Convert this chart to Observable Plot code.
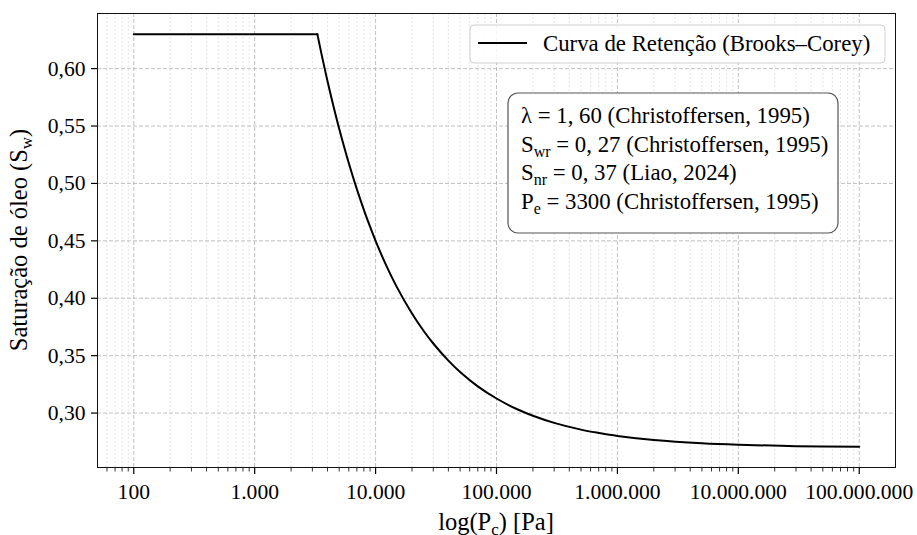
<!DOCTYPE html>
<html><head><meta charset="utf-8">
<script src="https://cdn.jsdelivr.net/npm/d3@7"></script>
<script src="https://cdn.jsdelivr.net/npm/@observablehq/plot@0.6"></script>
<style>
body{margin:0;background:#fff}
svg{display:block}
</style>
</head><body><div id="chart"></div>
<script>
// Capillary pressure (Pa) and oil saturation
const pressure = [100, 3300, 3600, 4000, 4500, 5000, 6000, 7000, 8000, 9000, 10000, 12000, 15000, 20000, 25000, 30000, 40000, 50000, 70000, 100000, 150000, 200000, 300000, 500000, 700000, 1000000, 2000000, 5000000, 10000000, 30000000, 100000000];
const saturation = [0.630, 0.630, 0.6109, 0.5892, 0.5666, 0.5477, 0.5178, 0.4950, 0.4770, 0.4623, 0.4500, 0.4306, 0.4097, 0.3867, 0.3715, 0.3606, 0.3457, 0.3358, 0.3233, 0.3127, 0.3031, 0.2977, 0.2915, 0.2856, 0.2827, 0.2801, 0.2766, 0.2737, 0.2724, 0.2712, 0.2706];
const entryPressure = 3300;
const xTicks = [100, 1000, 10000, 100000, 1000000, 10000000, 100000000];
const yTicks = [0.30, 0.35, 0.40, 0.45, 0.50, 0.55, 0.60];
const xDomain = [Math.pow(10, 1.7), Math.pow(10, 8.3)];
const yDomain = [0.2526, 0.648];
const legendLabel = "Curva de Retenção (Brooks–Corey)";
const paramSymbols = ["λ", "S", "S", "P"];
const paramSubs = ["", "wr", "nr", "e"];
const paramTexts = [" = 1, 60 (Christoffersen, 1995)", " = 0, 27 (Christoffersen, 1995)", " = 0, 37 (Liao, 2024)", " = 3300 (Christoffersen, 1995)"];

const loc = d3.formatLocale({decimal: ",", thousands: ".", grouping: [3], currency: ["R$", ""]});
const xFmt = loc.format(",d");
const yFmt = loc.format(".2f");
const rows = pressure.map((p, i) => ({p, s: saturation[i]}));
const minor = [];
for (let e = 1; e <= 8; e++) for (let k = 2; k <= 9; k++) {
  const v = k * Math.pow(10, e);
  if (v > xDomain[0] && v < xDomain[1]) minor.push(v);
}
const FONT = "Liberation Serif";
const W = 917, H = 535, ML = 97, MR = 22, MT = 13, MB = 68;
const TICK_FS = 21.6, LABEL_FS = 24.5, BOX_FS = 22.8, SUB_FS = 16;

const plot = Plot.plot({
  width: W, height: H, marginLeft: ML, marginRight: MR, marginTop: MT, marginBottom: MB,
  style: {fontFamily: FONT, fontSize: TICK_FS + "px", color: "#000", background: "#fff"},
  x: {type: "log", domain: xDomain},
  y: {domain: yDomain},
  marks: [
    Plot.ruleX(minor, {stroke: "#d4d4d4", strokeWidth: 0.6, strokeDasharray: "2,2"}),
    Plot.ruleX(xTicks, {stroke: "#b0b0b0", strokeWidth: 0.8, strokeDasharray: "4,2"}),
    Plot.ruleY(yTicks, {stroke: "#b0b0b0", strokeWidth: 0.8, strokeDasharray: "4,2"}),
    Plot.line(rows.filter(d => d.p <= entryPressure), {x: "p", y: "s", stroke: "#000", strokeWidth: 2}),
    Plot.line(rows.filter(d => d.p >= entryPressure), {x: "p", y: "s", stroke: "#000", strokeWidth: 2, curve: "catmull-rom"}),
    Plot.axisX(minor, {tickSize: 4.5, tickFormat: () => "", label: null, strokeWidth: 0.8}),
    Plot.axisX(xTicks, {tickSize: 7, tickPadding: 9.5, tickFormat: xFmt, label: null, strokeWidth: 1.2, fill: "#000", fontSize: TICK_FS}),
    Plot.axisY(yTicks, {tickSize: 6, tickPadding: 6, tickFormat: yFmt, label: null, strokeWidth: 1.2, fill: "#000", fontSize: TICK_FS}),
    Plot.frame({stroke: "#111", strokeWidth: 1})
  ]
});
document.getElementById("chart").appendChild(plot);

const svg = d3.select(plot);
svg.attr("font-family", FONT);
const g = svg.append("g").attr("font-family", FONT).attr("fill", "#000").attr("text-anchor", "start");

// axis labels
const xl = g.append("text").attr("x", (ML + W - MR) / 2).attr("y", 530).attr("text-anchor", "middle").attr("font-size", LABEL_FS);
xl.append("tspan").text("log(P");
xl.append("tspan").attr("font-size", 17).attr("dy", 5).text("c");
xl.append("tspan").attr("dy", -5).text(") [Pa]");

const yl = g.append("text").attr("transform", `translate(27,${(MT + H - MB) / 2}) rotate(-90)`).attr("text-anchor", "middle").attr("font-size", LABEL_FS);
yl.append("tspan").text("Saturação de óleo (S");
yl.append("tspan").attr("font-size", 17).attr("dy", 5).text("w");
yl.append("tspan").attr("dy", -5).text(")");

// legend
g.append("rect").attr("x", 470).attr("y", 25).attr("width", 415).attr("height", 38).attr("rx", 4)
  .attr("fill", "#fff").attr("fill-opacity", 0.85).attr("stroke", "#d0d0d0");
g.append("line").attr("x1", 478).attr("x2", 527).attr("y1", 43).attr("y2", 43).attr("stroke", "#000").attr("stroke-width", 2);
g.append("text").attr("x", 543).attr("y", 50.5).attr("font-size", BOX_FS).attr("text-anchor", "start").text(legendLabel);

// parameter box
g.append("rect").attr("x", 508).attr("y", 93).attr("width", 330).attr("height", 140).attr("rx", 10)
  .attr("fill", "#fff").attr("stroke", "#555").attr("stroke-width", 1.2);
const baselines = [123, 151.5, 180, 209];
paramSymbols.forEach((sym, i) => {
  const t = g.append("text").attr("x", 521).attr("y", baselines[i]).attr("font-size", BOX_FS).attr("text-anchor", "start");
  t.append("tspan").text(sym);
  if (paramSubs[i]) {
    t.append("tspan").attr("font-size", SUB_FS).attr("dy", 5).text(paramSubs[i]);
    t.append("tspan").attr("dy", -5).text(paramTexts[i]);
  } else {
    t.append("tspan").text(paramTexts[i]);
  }
});
svg.selectAll("text").attr("font-family", FONT);
</script></body></html>
